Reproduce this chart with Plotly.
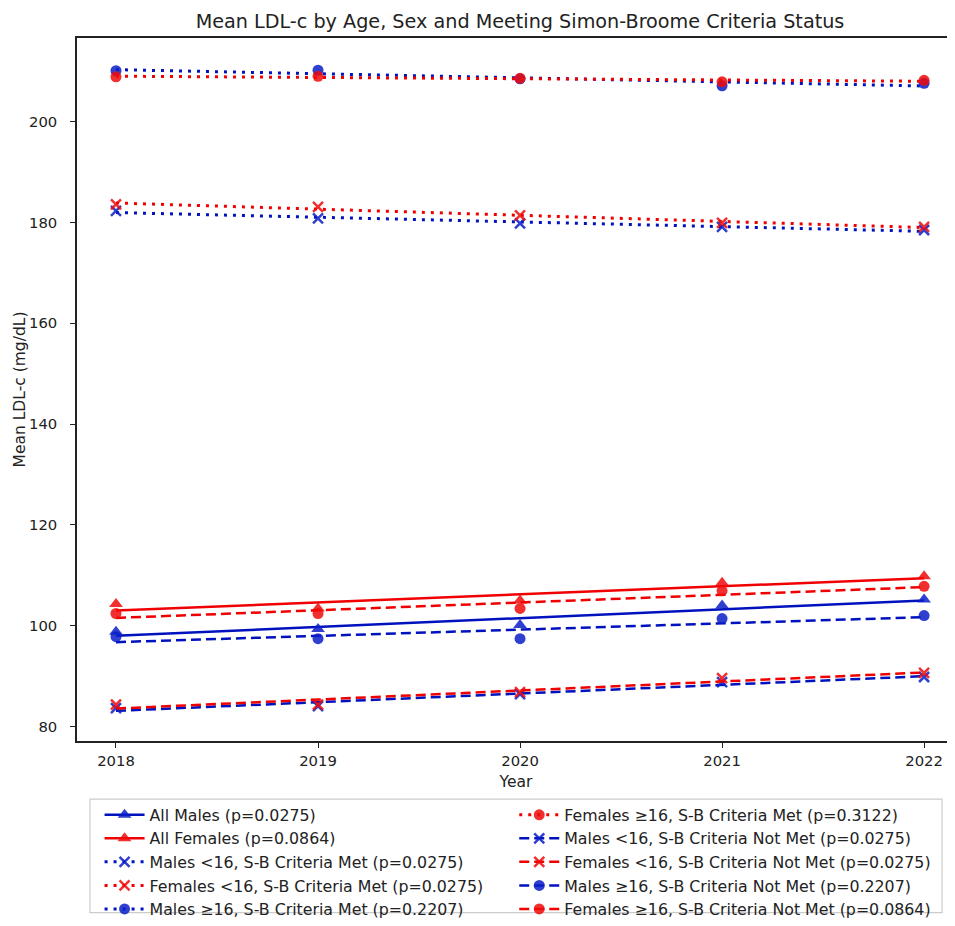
import numpy as np
import plotly.graph_objects as go

years = [2018, 2019, 2020, 2021, 2022]

all_males = [98.8, 99.3, 100.1, 104.0, 105.2]
all_females = [104.3, 103.4, 105.0, 108.5, 109.8]
males_u16_met = [182.3, 180.8, 179.8, 179.1, 178.5]
females_u16_met = [183.6, 183.1, 181.4, 179.9, 179.1]
males_o16_met = [210.1, 210.2, 208.5, 207.1, 207.6]
females_o16_met = [208.9, 209.0, 208.6, 207.9, 208.2]
males_u16_notmet = [83.6, 84.0, 86.4, 88.8, 89.8]
females_u16_notmet = [84.3, 84.3, 86.8, 89.6, 90.6]
males_o16_notmet = [97.8, 97.4, 97.4, 101.4, 102.0]
females_o16_notmet = [102.4, 102.4, 103.4, 106.9, 107.8]

labels = [
    "All Males (p=0.0275)",
    "All Females (p=0.0864)",
    "Males <16, S-B Criteria Met (p=0.0275)",
    "Females <16, S-B Criteria Met (p=0.0275)",
    "Males ≥16, S-B Criteria Met (p=0.2207)",
    "Females ≥16, S-B Criteria Met (p=0.3122)",
    "Males <16, S-B Criteria Not Met (p=0.0275)",
    "Females <16, S-B Criteria Not Met (p=0.0275)",
    "Males ≥16, S-B Criteria Not Met (p=0.2207)",
    "Females ≥16, S-B Criteria Not Met (p=0.0864)",
]
series = [all_males, all_females, males_u16_met, females_u16_met, males_o16_met,
          females_o16_met, males_u16_notmet, females_u16_notmet, males_o16_notmet,
          females_o16_notmet]

BLUE = "rgb(0,18,190)"
RED = "rgb(240,0,0)"
BLUE_M = "rgba(10,30,200,0.85)"
RED_M = "rgba(240,10,10,0.85)"

styles = [
    (BLUE, BLUE_M, "solid", "triangle-up", 2.5),
    (RED, RED_M, "solid", "triangle-up", 2.5),
    (BLUE, BLUE_M, "3px,6px", "x-thin", 3),
    (RED, RED_M, "3px,6px", "x-thin", 3),
    (BLUE, BLUE_M, "3px,6px", "circle", 3),
    (RED, RED_M, "3px,6px", "circle", 3),
    (BLUE, BLUE_M, "10px,5px", "x-thin", 2.5),
    (RED, RED_M, "10px,5px", "x-thin", 2.5),
    (BLUE, BLUE_M, "10px,5px", "circle", 2.5),
    (RED, RED_M, "10px,5px", "circle", 2.5),
]

fig = go.Figure()
x = np.array(years, dtype=float)
for i, (lab, vals, st) in enumerate(zip(labels, series, styles)):
    lc, mc, dash, sym, lw = st
    slope, icpt = np.polyfit(x, np.array(vals), 1)
    fit = slope * x + icpt
    fig.add_trace(go.Scatter(x=years, y=fit, mode="lines",
                             line=dict(color=lc, width=lw, dash=dash),
                             showlegend=False, hoverinfo="skip"))
    if sym == "x-thin":
        mk = dict(symbol=sym, size=10, line=dict(color=mc, width=2.5), color=mc)
    elif sym == "triangle-up":
        mk = dict(symbol=sym, size=12, color=mc, line=dict(width=0))
    else:
        mk = dict(symbol=sym, size=11, color=mc, line=dict(width=0))
    fig.add_trace(go.Scatter(x=years, y=vals, mode="markers", marker=mk,
                             showlegend=False, name=lab))
    fig.add_trace(go.Scatter(x=[None], y=[None], mode="lines+markers", name=lab,
                             marker=mk, line=dict(color=lc, width=lw, dash=dash),
                             legend="legend" if i < 5 else "legend2"))

font = "DejaVu Sans, Arial, sans-serif"
leg_common = dict(font=dict(family=font, size=15.8, color="#222"), bgcolor="rgba(0,0,0,0)",
                  borderwidth=0, yanchor="top", xanchor="left", tracegroupgap=0,
                  itemwidth=40)

W, H = 947, 918
L, R, T, B = 69, 0, 30, 175
PW, PH = W - L - R, H - T - B

fig.update_layout(
    width=W, height=H,
    margin=dict(l=L, r=R, t=T, b=B),
    paper_bgcolor="white", plot_bgcolor="white",
    title=dict(text="Mean LDL-c by Age, Sex and Meeting Simon-Broome Criteria Status",
               x=0.5 + 4 / PW, xref="paper", xanchor="center", y=1 - 13 / H, yanchor="middle",
               font=dict(family=font, size=19.2, color="#222")),
    font=dict(family=font, size=14.8, color="#222"),
    legend=dict(x=0.0257, y=-0.0813, **leg_common),
    legend2=dict(x=0.498, y=-0.0813, **leg_common),
    xaxis=dict(range=[2017.807, 2022.153], tickvals=years, ticktext=[str(y) for y in years],
               showgrid=False, zeroline=False, showline=True, mirror=True,
               linecolor="#222", linewidth=1.5, ticks="outside", ticklen=5,
               tickcolor="#222", tickfont=dict(size=14.8),
               title=dict(text="Year", font=dict(size=15.5), standoff=9)),
    yaxis=dict(range=[77.1, 216.6], tickvals=[80, 100, 120, 140, 160, 180, 200],
               showgrid=False, zeroline=False, showline=True, mirror=False,
               linecolor="#222", linewidth=1.5, ticks="outside", ticklen=5,
               ticklabelstandoff=10,
               tickcolor="#222", tickfont=dict(size=14.8),
               title=dict(text="Mean LDL-c (mg/dL)", font=dict(size=15.5), standoff=0)),
    shapes=[dict(type="rect", xref="paper", yref="paper",
                 x0=(82 - L) / PW, x1=(934 - L) / PW,
                 y0=(PH + T - 802) / PH, y1=(PH + T - 917) / PH,
                 line=dict(color="#cccccc", width=1.2), fillcolor="rgba(0,0,0,0)")],
)

fig.write_html("out.html")
